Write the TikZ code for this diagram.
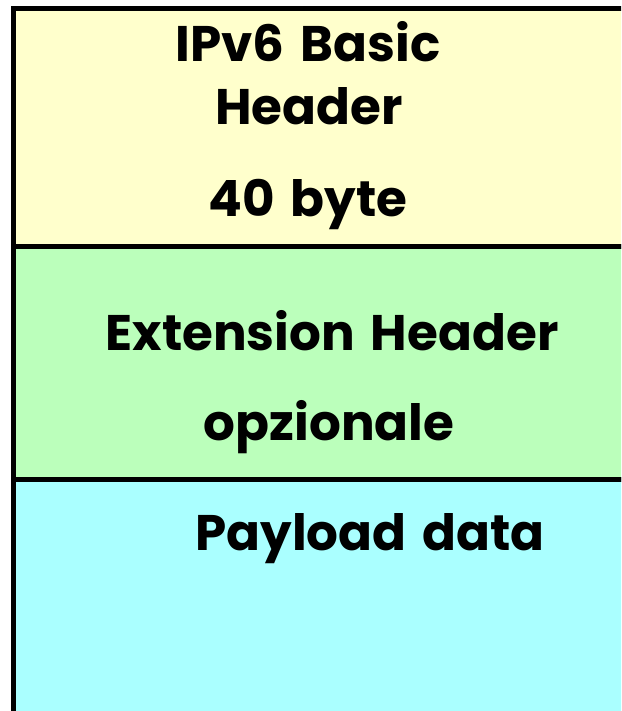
\documentclass[tikz,border=0pt]{standalone}
\usepackage{fontspec}
\setmainfont{Poppins}[WordSpace=1.5]
\definecolor{hdryellow}{HTML}{FFFFCC}
\definecolor{extgreen}{HTML}{BBFFBB}
\definecolor{paycyan}{HTML}{AAFFFF}
\begin{document}
\begin{tikzpicture}[x=1pt,y=-1pt,
  layer/.style={draw=black, line width=5pt, rectangle, inner sep=0pt, minimum width=626.5pt},
  lbl/.style={anchor=base, inner sep=0pt, font=\fontsize{50}{60}\selectfont\bfseries}]
\useasboundingbox (0,0) rectangle (621,711);
\clip (0,0) rectangle (621,711);
\node[layer, fill=hdryellow, minimum height=237.5pt] (basic) at (326.75,127.25) {};
\node[layer, fill=extgreen, minimum height=233.5pt] (ext) at (326.75,362.75) {};
\node[layer, fill=paycyan, minimum height=250.5pt] (pay) at (326.75,604.75) {};
\node[lbl] (t1) at (308,62) {IPv6 Basic};
\node[lbl] (t2) at (309,125) {Header};
\node[lbl] (t3) at (308,216) {40 byte};
\node[lbl] (t4) at (332,350) {Extension Header};
\node[lbl] (t5) at (329,440) {opzionale};
\node[lbl] (t6) at (370,550) {Payload data};
\end{tikzpicture}
\end{document}
